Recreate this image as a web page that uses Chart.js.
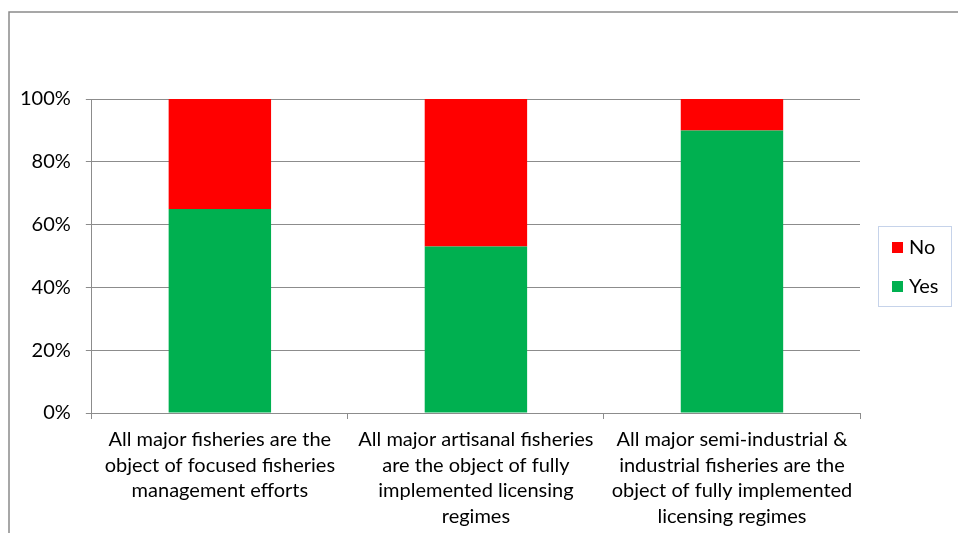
<!DOCTYPE html>
<html>
<head>
<meta charset="utf-8">
<script src="https://cdn.jsdelivr.net/npm/chart.js@4/dist/chart.umd.min.js"></script>
<style>
    html, body { margin: 0; padding: 0; background: #fff; }
    canvas { display: block; }
</style>
</head>
<body>
<canvas id="chart" width="958" height="533"></canvas>
<script>
// Chart data
const categories = [
    ['All major fisheries are the', 'object of focused fisheries', 'management efforts'],
    ['All major artisanal fisheries', 'are the object of fully', 'implemented licensing', 'regimes'],
    ['All major semi-industrial &', 'industrial fisheries are the', 'object of fully implemented', 'licensing regimes']
];
const yesValues = [65, 53, 90];
const noValues = [35, 47, 10];
const yTicks = [0, 20, 40, 60, 80, 100];

const FONT = 'Lato, "Open Sans", sans-serif';
const GRID = '#8c8c8c';

// Outer frame and the boxed legend on the right
const framePlugin = {
    id: 'frame',
    beforeDraw(chart) {
        const c = chart.ctx;
        c.save();
        c.strokeStyle = '#8a8a8a';
        c.lineWidth = 1.5;
        c.beginPath();
        c.moveTo(9, 533);
        c.lineTo(9, 12);
        c.lineTo(958, 12);
        c.stroke();
        c.restore();
    },
    afterDraw(chart) {
        const c = chart.ctx;
        c.save();
        c.strokeStyle = '#c6d3ea';
        c.lineWidth = 1;
        c.strokeRect(878.5, 226.5, 73, 80);

        // legend items, reversed like the stack (No on top)
        const items = chart.data.datasets.slice().reverse();
        c.font = '20px ' + FONT;
        c.textBaseline = 'middle';
        items.forEach((ds, i) => {
            const y = 247.5 + i * 39;
            c.fillStyle = ds.backgroundColor;
            c.fillRect(892, y - 5.5, 11, 11);
            c.fillStyle = '#000';
            c.fillText(ds.label, 909, y);
        });
        c.restore();
    }
};

new Chart(document.getElementById('chart'), {
    type: 'bar',
    data: {
        labels: categories,
        datasets: [
            {
                label: 'Yes',
                data: yesValues,
                backgroundColor: '#00b050',
                barPercentage: 0.4,
                categoryPercentage: 1
            },
            {
                label: 'No',
                data: noValues,
                backgroundColor: '#ff0000',
                barPercentage: 0.4,
                categoryPercentage: 1
            }
        ]
    },
    options: {
        responsive: false,
        animation: false,
        layout: {
            padding: { top: 99, left: 5, right: 98, bottom: -4 }
        },
        plugins: {
            tooltip: { enabled: false },
            legend: { display: false }
        },
        scales: {
            x: {
                stacked: true,
                grid: {
                    offset: true,
                    drawOnChartArea: false,
                    color: GRID,
                    tickLength: 6
                },
                border: { color: GRID },
                ticks: {
                    font: { family: FONT, size: 20, lineHeight: 1.275 },
                    color: '#000',
                    padding: 8,
                    maxRotation: 0,
                    autoSkip: false
                }
            },
            y: {
                stacked: true,
                min: 0,
                max: 100,
                afterBuildTicks(axis) {
                    axis.ticks = yTicks.map(v => ({ value: v }));
                },
                grid: {
                    color: GRID,
                    tickLength: 6
                },
                border: { color: GRID },
                ticks: {
                    font: { family: FONT, size: 20 },
                    color: '#000',
                    padding: 15,
                    callback: v => v + '%'
                }
            }
        }
    },
    plugins: [framePlugin]
});
</script>
</body>
</html>
